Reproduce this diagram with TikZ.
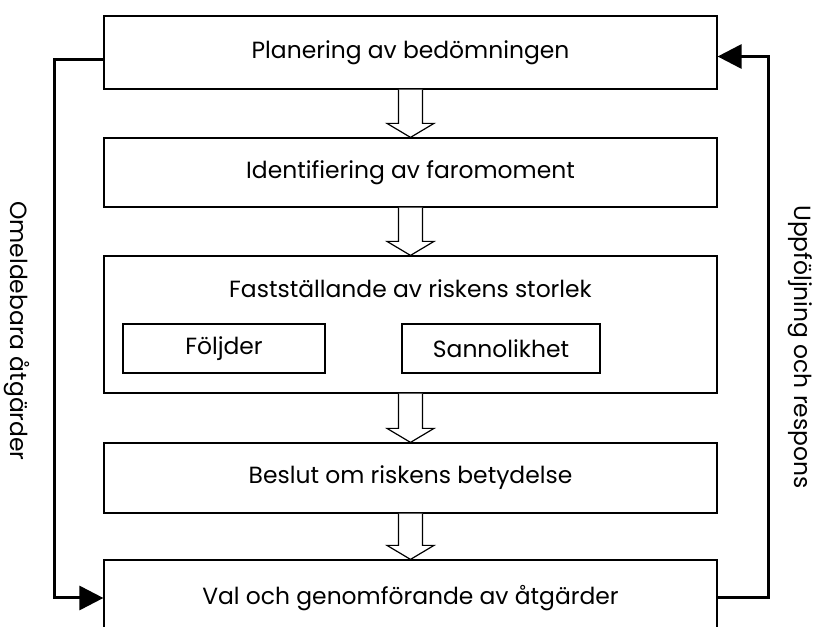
\documentclass[tikz,border=0pt]{standalone}
\usepackage{fontspec}
\setmainfont{Poppins}
\usetikzlibrary{arrows.meta}

\begin{document}
\begin{tikzpicture}[>={Triangle[length=24bp,width=24bp]},line join=miter,
  box/.style={draw,line width=1.2bp,minimum width=613bp,inner sep=0pt,font=\fontsize{23.5}{26}\selectfont},
  subbox/.style={draw,line width=1.2bp,minimum height=49bp,inner sep=0pt,font=\fontsize{23.5}{26}\selectfont},
  feedback/.style={line width=3bp},
  openarrow/.style={line width=1.2bp,fill=white},
  sidelabel/.style={rotate=-90,font=\fontsize{23.5}{26}\selectfont}]
\clip (0bp,0bp) rectangle (817bp,627bp);
%%
\node (node_plan) at (410.5bp,574.5bp) [box,minimum height=73bp] {Planering av bedömningen};
  \node (node_ident) at (410.5bp,454.5bp) [box,minimum height=69bp] {Identifiering av faromoment};
  \node (node_size) at (410.5bp,302.5bp) [box,minimum height=137bp] {};
  \node (node_title) at (410.5bp,338bp) [font=\fontsize{23.5}{26}\selectfont] {Fastställande av riskens storlek};
  \node (node_conseq) at (224bp,278.5bp) [subbox,minimum width=202bp] {Följder};
  \node (node_prob) at (501bp,278.5bp) [subbox,minimum width=198bp] {Sannolikhet};
  \node (node_decide) at (410.5bp,149bp) [box,minimum height=70bp] {Beslut om riskens betydelse};
  \node (node_act) at (410.5bp,29bp) [box,minimum height=76bp] {Val och genomförande av åtgärder};
  \node (node_left) at (17bp,296bp) [sidelabel] {Omeldebara åtgärder};
  \node (node_right) at (800bp,280bp) [sidelabel] {Uppföljning och respons};
  \foreach \a/\b in {node_plan/node_ident, node_ident/node_size, node_size/node_decide, node_decide/node_act}
    \draw [openarrow] ([xshift=-12bp]\a.south) -- ([xshift=-12bp,yshift=14bp]\b.north) -- ([xshift=-23.5bp,yshift=14bp]\b.north) -- (\b.north) -- ([xshift=23.5bp,yshift=14bp]\b.north) -- ([xshift=12bp,yshift=14bp]\b.north) -- ([xshift=12bp]\a.south);
  \draw [feedback,->] ([yshift=-7bp]node_plan.west) -- ++(-49bp,0) |- (node_act.west);
  \draw [feedback,->] (node_act.east) -- ++(51bp,0) |- ([yshift=-4bp]node_plan.east);
%
\end{tikzpicture}
\end{document}
